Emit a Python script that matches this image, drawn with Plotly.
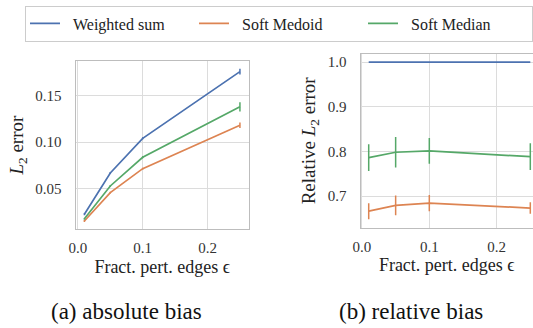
import plotly.graph_objects as go

eps = [0.01, 0.05, 0.1, 0.25]
series = ["Weighted sum", "Soft Medoid", "Soft Median"]
colors = ["#4c72b0", "#dd8452", "#55a868"]

abs_err = {
    "Weighted sum": [0.022, 0.0665, 0.104, 0.176],
    "Soft Medoid": [0.0147, 0.0453, 0.0712, 0.118],
    "Soft Median": [0.017, 0.0525, 0.0835, 0.138],
}
abs_std = {
    "Weighted sum": [0.001, 0.001, 0.001, 0.003],
    "Soft Medoid": [0.001, 0.001, 0.001, 0.003],
    "Soft Median": [0.001, 0.001, 0.001, 0.005],
}
rel_err = {
    "Weighted sum": [1.0, 1.0, 1.0, 1.0],
    "Soft Medoid": [0.666, 0.679, 0.684, 0.673],
    "Soft Median": [0.786, 0.798, 0.801, 0.788],
}
rel_std = {
    "Weighted sum": [0.0, 0.0, 0.0, 0.0],
    "Soft Medoid": [0.018, 0.022, 0.018, 0.013],
    "Soft Median": [0.030, 0.034, 0.029, 0.030],
}

x_ticks = [0.0, 0.1, 0.2]
x_ticklabels = ["0.0", "0.1", "0.2"]
y1_ticks = [0.05, 0.10, 0.15]
y1_ticklabels = ["0.05", "0.10", "0.15"]
y2_ticks = [0.7, 0.8, 0.9, 1.0]
y2_ticklabels = ["0.7", "0.8", "0.9", "1.0"]

FONT = "Liberation Serif, Times New Roman, Times, serif"
GRID = "#dcdcdc"
FRAME = "#bdbdbd"
NB = "\u00a0\u00a0"

fig = go.Figure()
for name, c in zip(series, colors):
    fig.add_trace(go.Scatter(
        x=eps, y=abs_err[name], mode="lines", name=NB + name,
        line=dict(color=c, width=1.7),
        error_y=dict(type="data", array=abs_std[name], color=c, thickness=1.5, width=0),
        xaxis="x", yaxis="y", legendgroup=name, showlegend=True,
    ))
for name, c in zip(series, colors):
    fig.add_trace(go.Scatter(
        x=eps, y=rel_err[name], mode="lines", name=NB + name,
        line=dict(color=c, width=1.7),
        error_y=dict(type="data", array=rel_std[name], color=c, thickness=1.5, width=0),
        xaxis="x2", yaxis="y2", legendgroup=name, showlegend=False,
    ))

W, H = 533, 328
common_axis = dict(
    showgrid=True, gridcolor=GRID, gridwidth=1, zeroline=False,
    showline=True, linecolor=FRAME, linewidth=1.2, ticks="", automargin=False,
    tickfont=dict(family=FONT, size=15, color="#333333"),
)

fig.update_layout(
    width=W, height=H,
    margin=dict(l=0, r=0, t=0, b=0, autoexpand=False),
    plot_bgcolor="white", paper_bgcolor="white",
    font=dict(family=FONT, color="#222222"),
    xaxis=dict(domain=[75.5 / W, 249 / W], range=[-0.0037, 0.264],
               tickvals=x_ticks, ticktext=x_ticklabels, mirror=True, anchor="y",
               ticklabelstandoff=5,
               title=dict(text="Fract. pert. edges ϵ", font=dict(family=FONT, size=18), standoff=4),
               **common_axis),
    yaxis=dict(domain=[(H - 229.3) / H, (H - 61) / H], range=[0.0057, 0.1875],
               tickvals=y1_ticks, ticktext=y1_ticklabels, mirror=True, anchor="x",
               ticklabelstandoff=10,
               title=dict(text="<i>L</i><sub>2</sub> error", font=dict(family=FONT, size=19), standoff=6),
               **common_axis),
    xaxis2=dict(domain=[360.5 / W, 1.0], range=[-0.0022, 0.254],
                tickvals=x_ticks, ticktext=x_ticklabels, mirror=True, anchor="y2",
                ticklabelstandoff=5,
                title=dict(text="Fract. pert. edges ϵ", font=dict(family=FONT, size=18), standoff=4),
                **common_axis),
    yaxis2=dict(domain=[(H - 227.7) / H, (H - 54) / H], range=[0.629, 1.018],
                tickvals=y2_ticks, ticktext=y2_ticklabels, mirror=False, anchor="x2",
                ticklabelstandoff=10,
                title=dict(text="Relative <i>L</i><sub>2</sub> error", font=dict(family=FONT, size=19), standoff=6),
                **common_axis),
    legend=dict(
        orientation="h", x=25 / W, y=1 - 5.5 / H, xanchor="left", yanchor="top",
        bordercolor="#cccccc", borderwidth=1, bgcolor="white",
        font=dict(family=FONT, size=16, color="#222222"),
        entrywidth=124, entrywidthmode="pixels", tracegroupgap=0,
    ),
    annotations=[
        dict(text="(a) absolute bias", x=126.3 / W, y=(H - 311.7) / H, xref="paper", yref="paper",
             showarrow=False, xanchor="center", yanchor="middle",
             font=dict(family=FONT, size=23, color="#111111")),
        dict(text="(b) relative bias", x=411 / W, y=(H - 311.7) / H, xref="paper", yref="paper",
             showarrow=False, xanchor="center", yanchor="middle",
             font=dict(family=FONT, size=23, color="#111111")),
    ],
)

fig.write_html(
    "out.html",
    config={"displayModeBar": False},
    post_script="document.body.style.margin='0';document.body.style.overflow='hidden';",
)
